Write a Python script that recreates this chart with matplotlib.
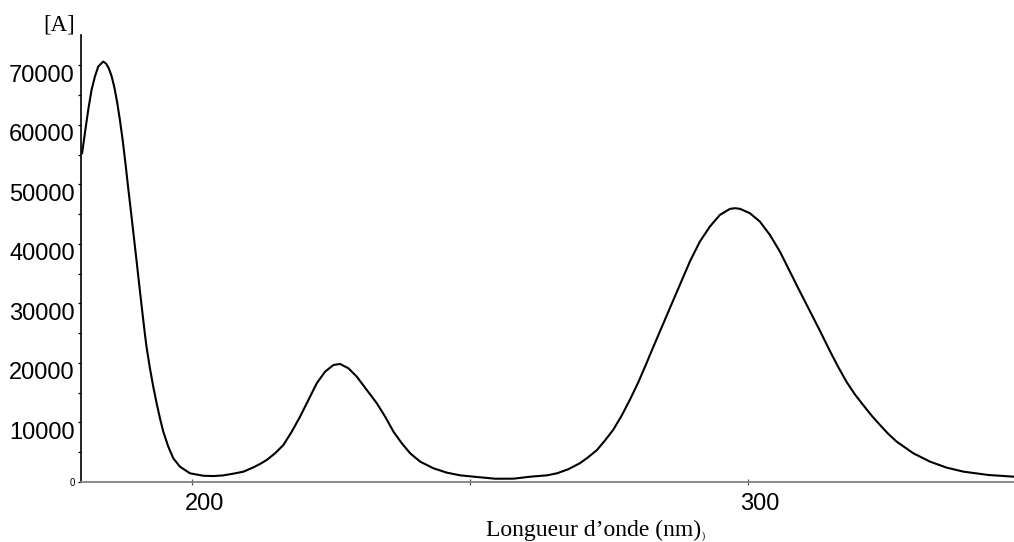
import matplotlib
matplotlib.use("Agg")
import matplotlib.pyplot as plt
import matplotlib.transforms as mtransforms

# Data (wavelength in nm, absorbance values)
wavelength = [180.2, 180.7, 181.3, 181.9, 182.5, 183.1, 184.0, 184.5, 185.0, 185.5,
              186.0, 186.5, 187.0, 187.5, 188.0, 188.5, 189.0, 189.5, 190.0, 190.5,
              191.0, 191.5, 191.8, 192.4, 193.0, 193.6, 194.2, 194.8, 195.7, 196.6,
              197.8, 199.6, 202.0,
              203.8, 205.5, 207.4, 209.2, 211.0, 212.2, 213.4, 214.9, 216.4, 217.9,
              219.4, 220.9, 222.4, 223.9, 225.4, 226.6, 228.1, 229.6, 231.4, 233.2,
              234.7, 236.2, 237.7, 239.2, 241.0, 243.4, 245.8, 248.2, 251.2, 254.5,
              257.8, 260.8, 263.8, 265.6, 267.6, 269.7, 271.2, 272.8, 274.2, 275.7,
              277.2, 278.7, 280.2, 281.7, 282.3, 284.1, 285.9, 287.7, 289.5, 291.3,
              293.1, 294.9, 296.7, 297.6, 298.5, 300.3, 302.1, 303.9, 305.7, 307.5,
              309.3, 311.1, 312.9, 314.7, 316.2, 317.7, 319.2, 320.7, 322.2, 323.7,
              325.2, 326.7, 329.7, 332.7, 335.7, 338.7, 343.2, 347.8]
absorbance = [55240, 58600, 62520, 65880, 68120, 69800, 70640, 70300, 69500, 68200,
              66300, 63800, 60800, 57400, 53500, 49300, 45300, 41200, 37100, 32900,
              28800, 24800, 22600, 19100, 16000, 13230, 10710, 8450, 5930, 3980,
              2570, 1460, 1050,
              1000, 1100, 1400, 1730, 2460, 3030, 3700, 4820, 6220, 8450,
              10980, 13780, 16590, 18540, 19660, 19830, 19100, 17700, 15460, 13230,
              10980, 8450, 6500, 4820, 3420, 2300, 1570, 1120, 840, 550,
              560, 890, 1120, 1460, 2130, 3140, 4150, 5380, 6940, 8740,
              11090, 13780, 16690, 19940, 21300, 25260, 29190, 33110, 37030, 40390,
              42910, 44870, 45880, 46000, 45900, 45160, 43750, 41510, 38710, 35350,
              31990, 28700, 25400, 22000, 19300, 16800, 14700, 12900, 11150, 9580,
              8070, 6780, 4820, 3420, 2410, 1740, 1180, 890]

y_major = [0, 10000, 20000, 30000, 40000, 50000, 60000, 70000]
y_labels = ["0", "10000", "20000", "30000", "40000", "50000", "60000", "70000"]
x_major = [200, 300]
x_labels = ["200", "300"]

fig = plt.figure(figsize=(10.14, 5.42), dpi=100)
ax = fig.add_axes([81/1014, 60/542, 1 - 81/1014, (482-35)/542])

ax.plot(wavelength, absorbance, color="black", lw=1.5, clip_on=False,
        solid_joinstyle="round")

ax.set_xlim(180, 347.8)
ax.set_ylim(0, 75100)

for s in ["top", "right"]:
    ax.spines[s].set_visible(False)
ax.spines["left"].set_color("black")
ax.spines["left"].set_linewidth(1.2)
ax.spines["bottom"].set_color("#808080")
ax.spines["bottom"].set_linewidth(1.3)

ax.set_yticks(y_major)
ax.set_yticks([5000, 15000, 25000, 35000, 45000, 55000, 65000], minor=True)
ax.set_yticklabels(y_labels, fontsize=17, family="Liberation Sans")
ax.set_xticks(x_major)
ax.set_xticks([250], minor=True)
ax.set_xticklabels(x_labels, fontsize=17, family="Liberation Sans")

ax.tick_params(axis="y", which="both", direction="out", length=2.5, width=0.9,
               color="black", pad=2)
ax.tick_params(axis="x", which="both", direction="inout", length=4, width=0.9,
               color="#555555", pad=6)

ylabs = ax.get_yticklabels()
ylabs[0].set_fontsize(7)
for lab in ylabs[1:]:
    lab.set_transform(lab.get_transform() +
                      mtransforms.ScaledTranslation(0, -0.08, fig.dpi_scale_trans))
for lab in ax.get_xticklabels():
    lab.set_transform(lab.get_transform() +
                      mtransforms.ScaledTranslation(0.12, 0, fig.dpi_scale_trans))

fig.text(59/1014, 1 - 25/542, "[A]", ha="center", va="center",
         fontsize=16.5, family="Liberation Serif")
fig.text(594/1014, 1 - 530/542, "Longueur d\u2019onde (nm)", ha="center", va="center",
         fontsize=17, family="Liberation Serif")
fig.text(702/1014, 1 - 536/542, ")", ha="left", va="center",
         fontsize=7, family="Liberation Serif")

fig.savefig("out.png", dpi=100)
